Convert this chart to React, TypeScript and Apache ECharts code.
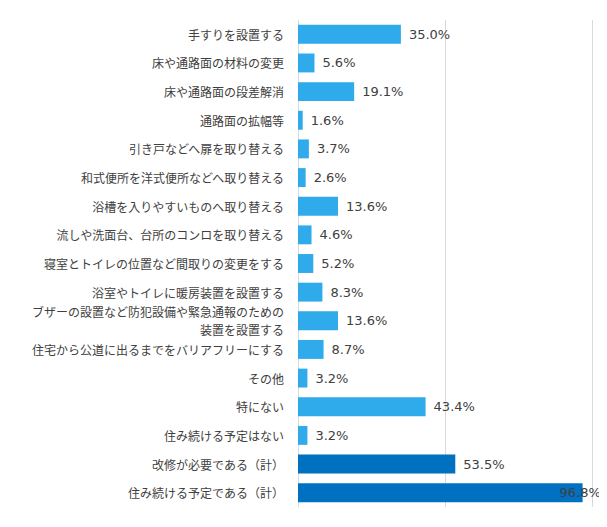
import React, { useEffect, useRef } from "react";
import * as echarts from "echarts";

const categories = [
  "手すりを設置する",
  "床や通路面の材料の変更",
  "床や通路面の段差解消",
  "通路面の拡幅等",
  "引き戸などへ扉を取り替える",
  "和式便所を洋式便所などへ取り替える",
  "浴槽を入りやすいものへ取り替える",
  "流しや洗面台、台所のコンロを取り替える",
  "寝室とトイレの位置など間取りの変更をする",
  "浴室やトイレに暖房装置を設置する",
  "ブザーの設置など防犯設備や緊急通報のための\n装置を設置する",
  "住宅から公道に出るまでをバリアフリーにする",
  "その他",
  "特にない",
  "住み続ける予定はない",
  "改修が必要である（計）",
  "住み続ける予定である（計）",
];
const values = [35.0, 5.6, 19.1, 1.6, 3.7, 2.6, 13.6, 4.6, 5.2, 8.3, 13.6, 8.7, 3.2, 43.4, 3.2, 53.5, 96.8];
const isTotal = [false, false, false, false, false, false, false, false, false, false, false, false, false, false, false, true, true];

const LIGHT = "#2FAAEA";
const DARK = "#0070C0";

export default function App() {
  const ref = useRef<HTMLDivElement>(null);
  useEffect(() => {
    const chart = echarts.init(ref.current!, undefined, { renderer: "svg" });
    const font = "'Noto Sans CJK JP', 'Noto Sans', sans-serif";
    chart.setOption({
      animation: false,
      grid: { left: 290, right: 15, top: 12, bottom: 20, containLabel: false },
      xAxis: {
        type: "value",
        min: 0,
        max: 100,
        interval: 50,
        axisLabel: { show: false },
        axisLine: { show: false },
        axisTick: { show: false },
        splitLine: { show: true, lineStyle: { color: "#D9D9D9", width: 1 } },
      },
      yAxis: {
        type: "category",
        inverse: true,
        data: categories,
        axisTick: { show: false },
        axisLine: { show: true, lineStyle: { color: "#D9D9D9", width: 1 } },
        axisLabel: {
          margin: 14,
          fontSize: 12,
          color: "#404040",
          fontFamily: font,
          lineHeight: 18,
        },
      },
      series: [
        {
          type: "bar",
          barCategoryGap: "34%",
          data: values.map((v, i) => ({
            value: v,
            itemStyle: { color: isTotal[i] ? DARK : LIGHT },
            label: i === values.length - 1 ? { offset: [-31, 0] } : undefined,
          })),
          label: {
            show: true,
            position: "right",
            distance: 8,
            fontSize: 13,
            color: "#404040",
            fontFamily: "'DejaVu Sans', sans-serif",
            formatter: (p: any) => p.value.toFixed(1) + "%",
          },
        },
      ],
    });
    return () => chart.dispose();
  }, []);
  return <div ref={ref} style={{ width: 599, height: 519 }} />;
}
